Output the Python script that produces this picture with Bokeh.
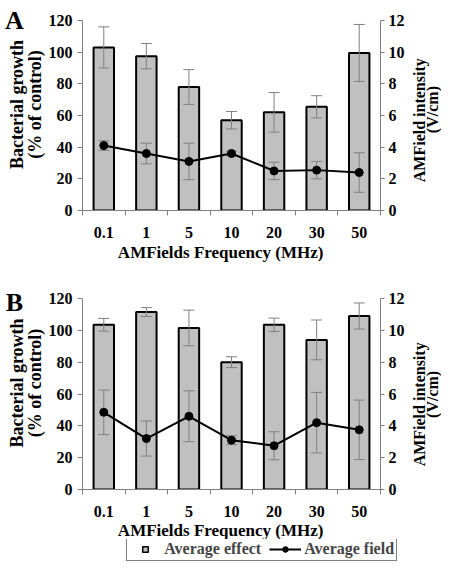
import math
import numpy as np
from bokeh.plotting import figure
from bokeh.models import (Range1d, LinearAxis, FixedTicker, Label, Legend, LegendItem)
from bokeh.layouts import column, row
from bokeh.embed import file_html
from bokeh.resources import INLINE

# ---------------- data ----------------
freqs = ["0.1", "1", "5", "10", "20", "30", "50"]

a_growth = [103, 97.5, 78, 57, 62, 65.5, 99.5]
a_growth_err = [13, 8, 11, 5.5, 12.5, 7, 18]
a_field = [4.1, 3.6, 3.1, 3.6, 2.5, 2.55, 2.4]
a_field_err = [0.3, 0.65, 1.15, 0.15, 0.55, 0.55, 1.25]

b_growth = [103.5, 111.5, 101.5, 80, 103.5, 94, 109]
b_growth_err = [4, 2.8, 11.2, 3.4, 4.2, 12.5, 8.2]
b_field = [4.85, 3.2, 4.6, 3.1, 2.75, 4.2, 3.75]
b_field_err = [1.4, 1.1, 1.6, 0.28, 0.88, 1.9, 1.87]

left_ticks = [0, 20, 40, 60, 80, 100, 120]
right_ticks = [0, 2, 4, 6, 8, 10, 12]

y_title = ["Bacterial growth", "(% of control)"]
y2_title = ["AMField intensity", "(V/cm)"]
x_title = "AMFields Frequency (MHz)"
legend_labels = ["Average effect", "Average field"]

# ---------------- style / layout ----------------
FONT = "Liberation Serif"
BAR_FILL = "#c0c0c0"
ERR = "#808080"
AXIS = "#808080"
W = 441
LEFT_W = 45
MAIN_BL, FRAME_W, MAIN_BR = 35, 302, 25
MAIN_W = MAIN_BL + FRAME_W + MAIN_BR
RIGHT_W = W - LEFT_W - MAIN_W
XT_CENTER = LEFT_W + MAIN_BL + 0.464 * FRAME_W


def text_fig(width, height):
    p = figure(width=width, height=height, output_backend="svg",
               toolbar_location=None, x_range=Range1d(0, width),
               y_range=Range1d(0, height), x_axis_location=None,
               y_axis_location=None, min_border=0)
    p.outline_line_color = None
    p.grid.visible = False
    return p


def lab(p, text, x, y, size, angle=0.0):
    p.add_layout(Label(x=x, y=y, text=text, text_font=FONT,
                       text_font_style="bold", text_font_size=size,
                       text_align="center", text_baseline="middle",
                       angle=angle, text_color="black"))


def main_fig(growth, gerr, field, ferr, height, top, bottom):
    n = len(freqs)
    xs = [i + 0.5 for i in range(n)]
    p = figure(width=MAIN_W, height=height, output_backend="svg",
               toolbar_location=None, x_range=Range1d(0, n),
               y_range=Range1d(left_ticks[0], left_ticks[-1]),
               min_border_left=MAIN_BL, min_border_right=MAIN_BR,
               min_border_top=top, min_border_bottom=bottom)
    p.extra_y_ranges = {"field": Range1d(right_ticks[0], right_ticks[-1])}
    p.outline_line_color = None
    p.xgrid.visible = False
    p.ygrid.visible = False

    xa = p.xaxis[0]
    xa.ticker = FixedTicker(ticks=xs, minor_ticks=list(range(n + 1)))
    xa.major_label_overrides = {x: f for x, f in zip(xs, freqs)}
    xa.major_tick_out = 0
    xa.major_tick_in = 0
    xa.minor_tick_out = 5
    xa.minor_tick_in = 0
    xa.major_label_standoff = 11

    ya = p.yaxis[0]
    ya.ticker = FixedTicker(ticks=left_ticks)
    ya.major_tick_out = 5
    ya.major_tick_in = 0
    ya.minor_tick_out = 0
    ya.minor_tick_in = 0
    ya.major_label_standoff = 5

    ra = LinearAxis(y_range_name="field", ticker=FixedTicker(ticks=right_ticks))
    ra.major_tick_out = 4
    ra.major_tick_in = 0
    ra.minor_tick_out = 0
    ra.minor_tick_in = 0
    ra.major_label_standoff = 4
    p.add_layout(ra, "right")

    for ax in (xa, ya, ra):
        ax.axis_line_color = AXIS
        ax.major_tick_line_color = AXIS
        ax.minor_tick_line_color = AXIS
        ax.major_label_text_font = FONT
        ax.major_label_text_font_style = "bold"
        ax.major_label_text_font_size = "16px"
        ax.major_label_text_color = "black"

    p.vbar(x=xs, top=growth, width=0.48, fill_color=BAR_FILL,
           line_color="black", line_width=2)
    lo = [g - e for g, e in zip(growth, gerr)]
    hi = [g + e for g, e in zip(growth, gerr)]
    p.segment(x0=xs, y0=lo, x1=xs, y1=hi, line_color=ERR, line_width=1)
    p.scatter(x=xs + xs, y=lo + hi, marker="dash", size=11, line_color=ERR,
              line_width=1)

    flo = [f - e for f, e in zip(field, ferr)]
    fhi = [f + e for f, e in zip(field, ferr)]
    p.segment(x0=xs, y0=flo, x1=xs, y1=fhi, line_color=ERR, line_width=1,
              y_range_name="field")
    p.scatter(x=xs + xs, y=flo + fhi, marker="dash", size=11, line_color=ERR,
              line_width=1, y_range_name="field")
    p.line(x=xs, y=field, line_color="black", line_width=2, y_range_name="field")
    p.scatter(x=xs, y=field, marker="circle", size=8, fill_color="black",
              line_color="black", y_range_name="field")
    return p


def panel_row(growth, gerr, field, ferr, letter, top, frame_h, bottom,
              letter_h, letter_y, ytitle_y, y2_y):
    height = top + frame_h + bottom
    m = main_fig(growth, gerr, field, ferr, height, top, bottom)
    lf = text_fig(LEFT_W, letter_h)
    lab(lf, letter, 14, letter_y, "26px")
    tf = text_fig(LEFT_W, height - letter_h)
    lab(tf, y_title[0], 16.5, ytitle_y, "18px", math.pi / 2)
    lab(tf, y_title[1], 34.5, ytitle_y, "18px", math.pi / 2)
    rf = text_fig(RIGHT_W, height)
    lab(rf, y2_title[0], 12, y2_y[0], "16px", math.pi / 2)
    lab(rf, y2_title[1], 25, y2_y[1], "16px", math.pi / 2)
    return row(column(lf, tf, spacing=0), m, rf, spacing=0)


row_a = panel_row(a_growth, a_growth_err, a_field, a_field_err, "A",
                  20, 190, 31, 36, 16, 137, (114.5, 128))
title_a = text_fig(W, 21)
lab(title_a, x_title, XT_CENTER, 10.5, "17px")

row_b = panel_row(b_growth, b_growth_err, b_field, b_field_err, "B",
                  36, 191, 31, 54, 14, 137.5, (115, 128.5))
title_b = text_fig(W, 19)
lab(title_b, x_title, XT_CENTER, 9.5, "17px")

# legend strip (proxy renderers carry no visible points)
leg_fig = text_fig(W, 22)
nan = np.array([np.nan])
sq = leg_fig.scatter(x=nan, y=nan, marker="square", size=12, fill_color=BAR_FILL,
                     line_color="black", line_width=1.5)
ln = leg_fig.line(x=nan, y=nan, line_color="black", line_width=2)
dt = leg_fig.scatter(x=nan, y=nan, marker="circle", size=8, fill_color="black",
                     line_color="black")
leg = Legend(items=[LegendItem(label=legend_labels[0], renderers=[sq]),
                    LegendItem(label=legend_labels[1], renderers=[ln, dt])],
             orientation="horizontal",
             location=(LEFT_W + MAIN_BL + 0.153 * FRAME_W, 0))
leg.label_text_font = FONT
leg.label_text_font_style = "bold"
leg.label_text_font_size = "16px"
leg.label_standoff = 3
leg.glyph_width = 32
leg.glyph_height = 14
leg.label_height = 18
leg.spacing = 8
leg.padding = 2
leg.margin = 0
leg.border_line_color = "black"
leg.border_line_width = 1
leg.background_fill_color = "white"
leg.background_fill_alpha = 1
leg_fig.add_layout(leg, "center")

layout = column(row_a, title_a, row_b, title_b, leg_fig, spacing=0)
open("out.html", "w").write(file_html(layout, INLINE))
